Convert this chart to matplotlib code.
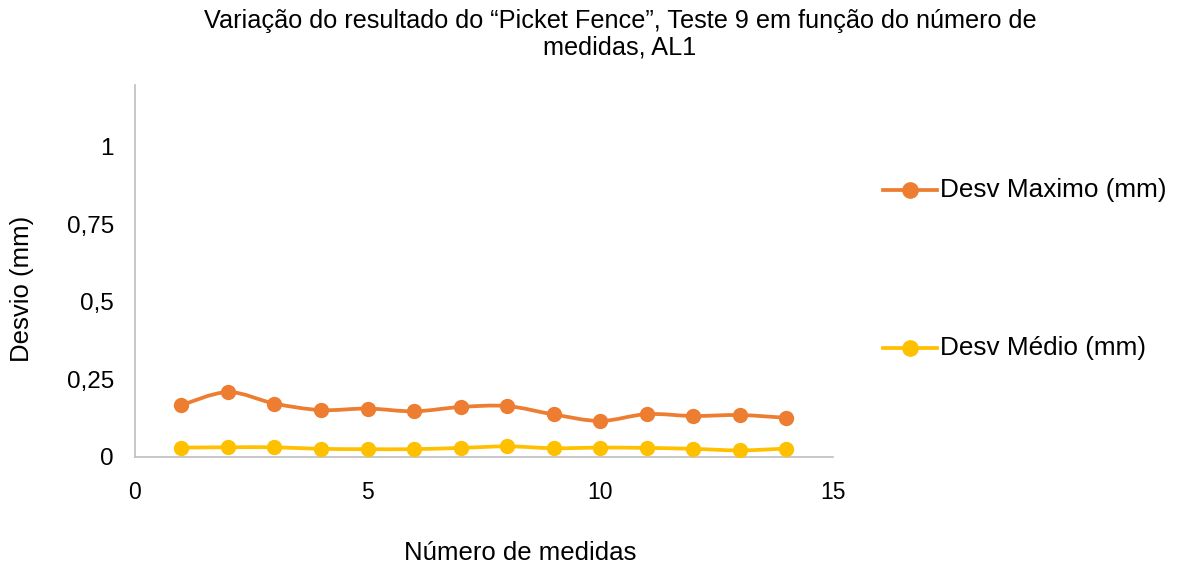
import numpy as np
import matplotlib.pyplot as plt
from matplotlib.path import Path
from matplotlib.patches import PathPatch
from matplotlib.lines import Line2D
from matplotlib.ticker import FuncFormatter

plt.rcParams['font.family'] = ['Liberation Sans', 'DejaVu Sans']

medidas = [1, 2, 3, 4, 5, 6, 7, 8, 9, 10, 11, 12, 13, 14]
desv_max = [0.167, 0.209, 0.172, 0.151, 0.156, 0.147, 0.161, 0.164, 0.137, 0.116, 0.138, 0.132, 0.135, 0.126]
desv_med = [0.030, 0.031, 0.031, 0.026, 0.025, 0.025, 0.029, 0.034, 0.028, 0.030, 0.029, 0.026, 0.021, 0.027]
series_names = ["Desv Maximo (mm)", "Desv Médio (mm)"]
cores = ["#ED7D31", "#FFC000"]


def smooth_path(x, y):
    # Catmull-Rom -> cubic bezier, like Excel's smoothed line
    x = np.asarray(x, float)
    y = np.asarray(y, float)
    verts = [(x[0], y[0])]
    codes = [Path.MOVETO]
    n = len(x)
    for i in range(n - 1):
        x0, y0 = (x[i - 1], y[i - 1]) if i > 0 else (x[i], y[i])
        x3, y3 = (x[i + 2], y[i + 2]) if i + 2 < n else (x[i + 1], y[i + 1])
        x1, y1 = x[i], y[i]
        x2, y2 = x[i + 1], y[i + 1]
        c1 = (x1 + (x2 - x0) / 6, y1 + (y2 - y0) / 6)
        c2 = (x2 - (x3 - x1) / 6, y2 - (y3 - y1) / 6)
        verts += [c1, c2, (x2, y2)]
        codes += [Path.CURVE4] * 3
    return Path(verts, codes)


fig = plt.figure(figsize=(11.83, 5.69), dpi=100)
ax = fig.add_axes([0.114, 0.197, 0.590, 0.654])

for ys, c in zip([desv_max, desv_med], cores):
    ax.add_patch(PathPatch(smooth_path(medidas, ys), fill=False, edgecolor=c, lw=2.7,
                           capstyle='round', joinstyle='round'))
    ax.plot(medidas, ys, 'o', color=c, ms=10, zorder=3)

ax.set_xlim(0, 15)
ax.set_ylim(0, 1.2)
ax.set_xticks([0, 5, 10, 15])
ax.set_yticks([0, 0.25, 0.5, 0.75, 1])
ax.yaxis.set_major_formatter(FuncFormatter(lambda v, p: ('%g' % v).replace('.', ',')))
ax.tick_params(axis='x', length=0, labelsize=16.5, colors='black', pad=17)
ax.tick_params(axis='y', length=0, labelsize=17.5, colors='black', pad=15)
for s in ['top', 'right']:
    ax.spines[s].set_visible(False)
for s in ['left', 'bottom']:
    ax.spines[s].set_color('#BFBFBF')
    ax.spines[s].set_linewidth(1.2)

fig.text(0.524, 0.984, "Variação do resultado do “Picket Fence”, Teste 9 em função do número de\nmedidas, AL1",
         ha='center', va='top', fontsize=18.2, linespacing=1.12)
fig.text(0.44, 0.028, "Número de medidas", ha='center', va='center', fontsize=18.5)
fig.text(0.019, 0.493, "Desvio (mm)", ha='center', va='center', rotation=90, fontsize=18.5)

# legend on the right
for name, c, ypix in zip(series_names, cores, [190, 348]):
    yf = 1 - ypix / 569
    fig.add_artist(Line2D([883 / 1183, 937 / 1183], [yf, yf], color=c, lw=2.7,
                          transform=fig.transFigure))
    fig.add_artist(Line2D([910 / 1183], [yf], marker='o', color=c, ms=11,
                          transform=fig.transFigure))
    fig.text(940 / 1183, yf, name, ha='left', va='center', fontsize=18.8)

fig.savefig("out.png", dpi=100)
